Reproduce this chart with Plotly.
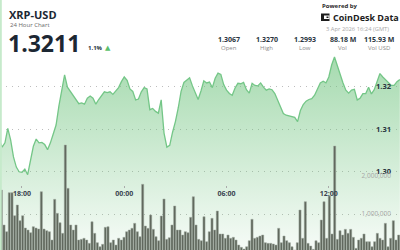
import plotly.graph_objects as go
import pandas as pd

# ---------------- data ----------------
price = [1.3075, 1.3058, 1.3068, 1.3102, 1.3075, 1.3035, 1.3011, 1.3000, 1.2999, 1.3006,
         1.2993, 1.3025, 1.3060, 1.3077, 1.3068, 1.3069, 1.3064, 1.3052, 1.3068, 1.3089,
         1.3110, 1.3155, 1.3190, 1.3228, 1.3199, 1.3189, 1.3179, 1.3170, 1.3160, 1.3162,
         1.3159, 1.3173, 1.3178, 1.3173, 1.3159, 1.3170, 1.3179, 1.3188, 1.3186, 1.3188,
         1.3182, 1.3191, 1.3198, 1.3212, 1.3223, 1.3215, 1.3195, 1.3189, 1.3169, 1.3171,
         1.3188, 1.3198, 1.3195, 1.3146, 1.3149, 1.3142, 1.3138, 1.3169, 1.3091, 1.3058,
         1.3062, 1.3093, 1.3118, 1.3150, 1.3189, 1.3210, 1.3216, 1.3221, 1.3202, 1.3184,
         1.3170, 1.3190, 1.3214, 1.3209, 1.3211, 1.3198, 1.3220, 1.3232, 1.3229, 1.3205,
         1.3192, 1.3184, 1.3180, 1.3197, 1.3208, 1.3207, 1.3210, 1.3193, 1.3185, 1.3208,
         1.3203, 1.3202, 1.3209, 1.3199, 1.3192, 1.3195, 1.3193, 1.3184, 1.3168, 1.3152,
         1.3137, 1.3133, 1.3131, 1.3129, 1.3128, 1.3118, 1.3144, 1.3158, 1.3166, 1.3170,
         1.3172, 1.3180, 1.3194, 1.3209, 1.3213, 1.3209, 1.3223, 1.3251, 1.3270, 1.3249,
         1.3233, 1.3209, 1.3192, 1.3185, 1.3192, 1.3194, 1.3169, 1.3173, 1.3184, 1.3184,
         1.3199, 1.3183, 1.3193, 1.3212, 1.3231, 1.3223, 1.3217, 1.3210, 1.3203, 1.3203,
         1.3212, 1.3217]
price_start = "2026-04-02 16:40"
price_step = "10min"

volume = [1.632, 0.711, 0.534, 1.561, 1.561, 0.955, 1.237, 0.824, 0.955, 0.632,
          0.579, 0.508, 0.666, 0.632, 0.605, 1.587, 0.605, 0.561, 0.534, 0.316,
          1.387, 1.018, 0.771, 0.492, 2.816, 1.676, 0.711, 0.579, 0.711, 0.316,
          0.334, 0.361, 0.316, 0.229, 0.797, 0.492, 0.245, 0.139,
          0.203, 0.650, 0.666, 0.245, 0.316, 0.184, 0.361, 0.316, 0.387, 0.534,
          0.579, 0.624, 0.755, 0.534, 0.403, 1.782, 0.684, 0.624, 0.974, 0.597,
          0.403, 0.297, 0.947, 1.395, 0.334, 0.376, 0.711, 1.211, 0.579, 0.579,
          0.447, 0.534, 0.508, 0.913, 1.455, 0.711, 0.334,
          0.297, 0.929, 0.271, 0.534, 0.887, 0.579, 1.079, 0.474, 0.474, 0.361,
          0.447, 0.361, 0.387, 0.316, 0.184, 0.124, 0.079, 0.139, 0.297, 0.861,
          0.361, 0.387, 0.421, 0.447, 0.245, 0.229, 0.229, 0.211, 0.184, 0.624,
          0.245, 0.421, 0.297, 0.245, 0.139, 0.053, 0.245, 1.105,
          0.361, 1.324, 0.229, 0.158, 0.071, 0.297, 0.245, 0.842, 1.324, 0.361,
          1.474, 0.474, 2.789, 0.334, 0.561, 0.447, 0.597, 0.492, 0.597, 0.387,
          0.097, 0.316, 0.361, 0.474, 0.271, 0.271, 0.139, 0.271, 0.492, 0.361,
          0.316, 0.755, 0.139, 0.361, 0.824, 0.316, 0.447]
volume = [v * 1e6 for v in volume]

time_ticks = ["2026-04-02 18:00", "2026-04-03 00:00", "2026-04-03 06:00", "2026-04-03 12:00"]
price_ticks = [1.29, 1.30, 1.31, 1.32]
price_tick_text = ["", "1.30", "1.31", "1.32"]
vol_ticks = [1e6, 2e6]
vol_tick_text = ["1,000,000", "2,000,000"]

symbol = "XRP-USD"
subtitle = "24 Hour Chart"
last_price = "1.3211"
change_pct = "1.1%"
stat_values = ["1.3067", "1.3270", "1.2993", "88.18 M", "115.93 M"]
stat_labels = ["Open", "High", "Low", "Vol", "Vol USD"]
timestamp = "3 Apr 2026 16:24 (GMT)"

# ---------------- figure ----------------
W, H = 400, 250
FONT = "Open Sans"
times = pd.date_range(price_start, periods=len(price), freq=price_step)

fig = go.Figure()
fig.add_trace(go.Scatter(
    x=times, y=price, mode="lines",
    line=dict(color="#74c687", width=1.3),
    fill="tozeroy",
    fillgradient=dict(type="vertical", start=1.2816, stop=1.3275,
                      colorscale=[[0, "rgba(110,195,125,0.06)"], [1, "rgba(110,195,125,0.62)"]]),
    hoverinfo="skip", xaxis="x", yaxis="y",
))
fig.add_trace(go.Bar(
    x=list(range(len(volume))), y=volume,
    marker=dict(color="#5f675c", line=dict(color="#a3ada2", width=0.5)),
    xaxis="x2", yaxis="y2", hoverinfo="skip",
))

def px(x, y):
    return x / W, 1 - y / H

ann = []
def text(x, y, s, size, color, bold=False, xanchor="left", family=FONT):
    ax, ay = px(x, y)
    ann.append(dict(x=ax, y=ay, xref="paper", yref="paper", text=s, showarrow=False,
                    xanchor=xanchor, yanchor="middle",
                    font=dict(family=family, size=size, color=color,
                              weight=700 if bold else 400)))

text(7, 14.5, symbol, 11, "#1c2733", bold=True)
text(7.5, 25, subtitle, 6, "#6a6a6a")
text(6, 42.5, last_price, 23, "#1c2733", bold=True)
text(86, 48.5, change_pct, 6, "#2a3440", bold=True)
text(103.5, 48, "▲", 7, "#5cbf6c", family="DejaVu Sans")

text(320, 6, "Powered by", 6, "#2a2a2a", bold=True)
text(331, 17.5, "CoinDesk Data", 9, "#1c1c1c", bold=True)
text(391, 29, timestamp, 5.8, "#a8a8a8", xanchor="right")

stat_x = [228.5, 266.5, 304.5, 342.5, 379]
for sx, sv, sl in zip(stat_x, stat_values, stat_labels):
    text(sx, 39, sv, 7, "#2a3440", bold=True, xanchor="center")
    text(sx, 48.2, sl, 6, "#8a8a8a", xanchor="center")

shapes = []
def rect(x0, y0, x1, y1, color):
    a0, b0 = px(x0, y0)
    a1, b1 = px(x1, y1)
    shapes.append(dict(type="rect", xref="paper", yref="paper", x0=a0, y0=b1, x1=a1, y1=b0,
                       fillcolor=color, line=dict(width=0)))

# logo mark
rect(321, 13.5, 329.5, 21, "#1c1c1c")
rect(324, 15.5, 329.5, 19, "#ffffff")
rect(326.5, 16.5, 328.5, 18, "#1c1c1c")
# left border
shapes.append(dict(type="line", xref="paper", yref="paper", x0=0.002, x1=0.002, y0=0, y1=1,
                   line=dict(color="#c6eacb", width=2)))

fig.update_layout(
    width=W, height=H, margin=dict(l=0, r=0, t=0, b=0),
    paper_bgcolor="white", plot_bgcolor="white",
    showlegend=False, bargap=0.18,
    annotations=ann, shapes=shapes,
    xaxis=dict(type="date", range=["2026-04-02 16:42:36", "2026-04-03 16:10:36"],
               tickvals=time_ticks, tickformat="%H:%M",
               anchor="free", position=0.262,
               ticks="outside", ticklen=2, tickcolor="#aaaaaa",
               showgrid=False, showline=False, zeroline=False,
               tickfont=dict(family=FONT, size=7, color="#3a4350", weight=700)),
    xaxis2=dict(overlaying="x", range=[-0.5, len(volume) - 0.5], visible=False),
    yaxis=dict(range=[1.2816, 1.3404], side="right", tickvals=price_ticks,
               ticktext=price_tick_text, ticklabelposition="inside",
               ticklabelstandoff=6, ticks="",
               showgrid=True, gridcolor="#bdbdbd", griddash="1px,5px", gridwidth=1,
               zeroline=False, showline=False,
               tickfont=dict(family=FONT, size=7.5, color="#2a3440", weight=700)),
    yaxis2=dict(overlaying="y", range=[52600, 6632000], side="right",
                tickvals=vol_ticks, ticktext=vol_tick_text, ticklabelposition="inside",
                ticklabelstandoff=6, ticks="", showgrid=False, zeroline=False,
                tickfont=dict(family=FONT, size=6.5, color="#a6a6a6")),
)

fig.write_html("out.html")
